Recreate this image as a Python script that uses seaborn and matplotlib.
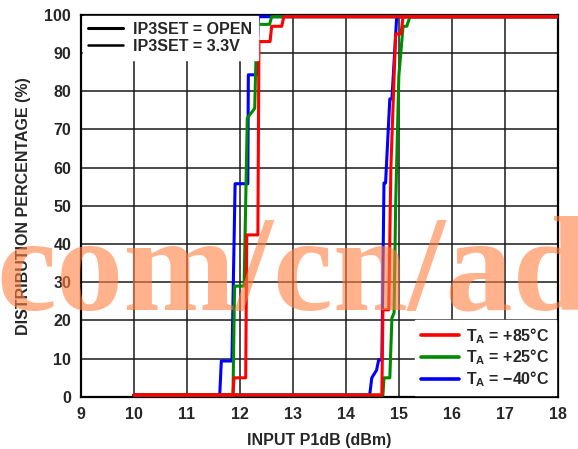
import matplotlib
matplotlib.use('Agg')
import matplotlib.pyplot as plt
import pandas as pd
import seaborn as sns
from matplotlib.lines import Line2D

# Step-like distribution curves (x in dBm, y in %)
# IP3SET group near 12 dBm
blue_lo_x = [10, 11.62, 11.65, 11.85, 11.91, 12.15, 12.16, 12.32, 12.35, 18]
blue_lo_y = [0.5, 0.5, 9.4, 9.4, 55.8, 55.8, 84.3, 84.3, 99.5, 99.5]
green_lo_x = [10, 11.87, 11.90, 12.08, 12.14, 12.28, 12.32, 12.56, 12.60, 18]
green_lo_y = [0.5, 0.5, 29, 29, 73, 75.5, 97.5, 97.5, 99.5, 99.5]
red_lo_x = [10, 11.87, 11.89, 12.11, 12.13, 12.34, 12.36, 12.57, 12.60, 12.79, 12.83, 18]
red_lo_y = [0.5, 0.5, 5, 5, 42.4, 42.4, 93, 93, 97, 97, 99.5, 99.5]

# IP3SET group near 15 dBm
blue_hi_x = [10, 14.45, 14.49, 14.58, 14.62, 14.68, 14.72, 14.75, 14.83, 14.87, 14.96, 18]
blue_hi_y = [0.5, 0.5, 5, 7, 9.7, 9.7, 56, 56, 78, 78, 99.5, 99.5]
green_hi_x = [10, 14.70, 14.72, 14.83, 14.87, 14.91, 14.94, 15.0, 15.08, 15.15, 15.21, 18]
green_hi_y = [0.5, 0.5, 5, 5, 20.7, 22, 50, 84, 97, 97, 99.5, 99.5]
red_hi_x = [10, 14.68, 14.70, 14.81, 14.85, 14.94, 15.04, 15.08, 18]
red_hi_y = [0.5, 0.5, 22.8, 22.8, 60, 95, 95, 99.5, 99.5]

temp_labels = ['T$_\\mathbf{A}$ = +85°C', 'T$_\\mathbf{A}$ = +25°C', 'T$_\\mathbf{A}$ = −40°C']
mode_labels = ['IP3SET = OPEN', 'IP3SET = 3.3V']
x_ticks = list(range(9, 19))
y_ticks = list(range(0, 101, 10))

curves = [
    ('-40', 'lo', blue_lo_x, blue_lo_y), ('-40', 'hi', blue_hi_x, blue_hi_y),
    ('25', 'lo', green_lo_x, green_lo_y), ('25', 'hi', green_hi_x, green_hi_y),
    ('85', 'lo', red_lo_x, red_lo_y), ('85', 'hi', red_hi_x, red_hi_y),
]
rows = []
for temp, mode, xs, ys in curves:
    for i, (x, y) in enumerate(zip(xs, ys)):
        rows.append({'temp': temp, 'curve': temp + mode, 'order': i, 'x': x, 'y': y})
df = pd.DataFrame(rows)

sns.set_style('white')
plt.rcParams['font.family'] = ['Liberation Sans', 'DejaVu Sans']
plt.rcParams['font.weight'] = 'bold'
plt.rcParams['mathtext.fontset'] = 'custom'
plt.rcParams['mathtext.bf'] = 'Liberation Sans:bold'
plt.rcParams['mathtext.rm'] = 'Liberation Sans:bold'

colors = {'-40': '#0000ff', '25': '#008a00', '85': '#ff0000'}

fig, ax = plt.subplots(figsize=(5.78, 4.49), dpi=100)
fig.subplots_adjust(left=0.140, right=0.965, bottom=0.116, top=0.967)

sns.lineplot(data=df, x='x', y='y', hue='temp', units='curve', estimator=None,
             sort=False, hue_order=['-40', '25', '85'], palette=colors,
             linewidth=2.2, legend=False, ax=ax, zorder=3)

ax.set_xlim(9, 18)
ax.set_ylim(0, 100)
ax.set_xticks(x_ticks)
ax.set_yticks(y_ticks)
ax.grid(True, color='#1a1a1a', linewidth=1.1)
ax.set_axisbelow(True)
ax.tick_params(length=0, labelsize=11.5, pad=7)
for lab in ax.get_xticklabels() + ax.get_yticklabels():
    lab.set_fontweight('bold')
for sp in ax.spines.values():
    sp.set_color('black')
    sp.set_linewidth(1.6)

ax.set_xlabel('INPUT P1dB (dBm)', fontsize=11.5, fontweight='bold', labelpad=8)
ax.set_ylabel('DISTRIBUTION PERCENTAGE (%)', fontsize=11.5, fontweight='bold', labelpad=10)

# legend for IP3SET setting
h1 = [Line2D([], [], color='black', linewidth=2.2), Line2D([], [], color='black', linewidth=1.8)]
leg1 = ax.legend(h1, mode_labels, loc='upper left', bbox_to_anchor=(0.0, 1.0),
                 borderaxespad=0.1, borderpad=0.35, labelspacing=0.12, handlelength=2.2,
                 handletextpad=0.6, frameon=True, fancybox=False, framealpha=1,
                 edgecolor='white', prop={'size': 11.5, 'weight': 'bold'})
ax.add_artist(leg1)

# legend for temperature
h2 = [Line2D([], [], color=colors[t], linewidth=2.6) for t in ['85', '25', '-40']]
leg2 = ax.legend(h2, temp_labels, loc='lower right', bbox_to_anchor=(1.0, 0.0),
                 borderaxespad=0.1, borderpad=0.4, labelspacing=0.12, handlelength=2.4,
                 handletextpad=0.45, frameon=True, fancybox=False, framealpha=1,
                 edgecolor='white', prop={'size': 11.5, 'weight': 'bold'})

# watermark across the plot
fig.text(-0.006, 0.31, 'com/cn/ad', fontsize=97, fontweight='bold',
         family=['Liberation Serif', 'DejaVu Serif'], color='#ff7f3f', alpha=0.6,
         va='baseline', ha='left', zorder=10)

fig.savefig('out.png', dpi=100)
